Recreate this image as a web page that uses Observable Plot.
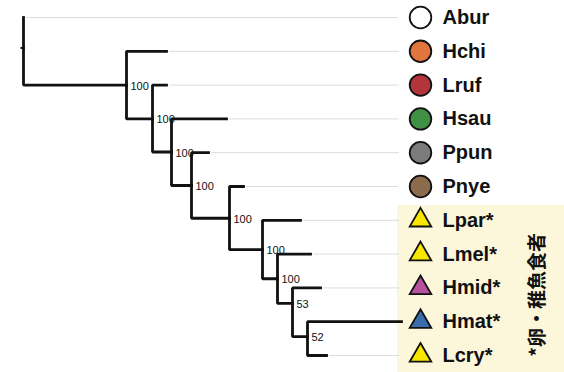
<!DOCTYPE html>
<html>
<head>
<meta charset="utf-8">
<script src="https://cdn.jsdelivr.net/npm/d3@7"></script>
<script src="https://cdn.jsdelivr.net/npm/@observablehq/plot@0.6"></script>
<style>
  html, body { margin: 0; padding: 0; background: #fff; }
  #chart svg { display: block; }
  g[aria-label="tip-labels"] text { letter-spacing: 0.8px; }
</style>
</head>
<body>
<div id="chart"></div>
<script>
// ---- Tips (leaves), top to bottom ----
const tips       = ["Abur","Hchi","Lruf","Hsau","Ppun","Pnye","Lpar","Lmel","Hmid","Hmat","Lcry"];
const tipLabels  = ["Abur","Hchi","Lruf","Hsau","Ppun","Pnye","Lpar*","Lmel*","Hmid*","Hmat*","Lcry*"];
const tipParent  = ["N0","N1","N2","N3","N4","N5","N6","N7","N8","N9","N9"];
const tipDepth   = [0.000,0.143,0.143,0.203,0.185,0.220,0.277,0.287,0.297,0.378,0.303];
const tipColor   = ["#ffffff","#e0763e","#b3353b","#3f8f45","#7b7b7b","#8c6a4c","#f8e800","#f8e800","#b5529b","#3a6db0","#f8e800"];
const tipShape   = ["circle","circle","circle","circle","circle","circle","triangle","triangle","triangle","triangle","triangle"];
const tipEggFry  = [false,false,false,false,false,false,true,true,true,true,true];

// ---- Internal nodes ----
const nodes       = ["N0","N1","N2","N3","N4","N5","N6","N7","N8","N9"];
const nodeParent  = [null,"N0","N1","N2","N3","N4","N5","N6","N7","N8"];
const nodeDepth   = [0.000,0.103,0.129,0.148,0.168,0.206,0.239,0.254,0.269,0.284];
const nodeRow     = [0.90,2.00,3.00,3.98,4.97,5.94,6.87,7.73,8.46,9.44];
const nodeSupport = [null,100,100,100,100,100,100,100,53,52];

const noteText = "*卵・稚魚食者";
const guideEnd = 0.375;

// ---- Build tables ----
const tipTable = tips.map((id, i) => ({
  id, label: tipLabels[i], parent: tipParent[i], depth: tipDepth[i], row: i,
  color: tipColor[i], shape: tipShape[i], eggFry: tipEggFry[i]
}));
const nodeTable = nodes.map((id, i) => ({
  id, parent: nodeParent[i], depth: nodeDepth[i], row: nodeRow[i], support: nodeSupport[i]
}));
const all = [...nodeTable, ...tipTable];
const byId = new Map(all.map(d => [d.id, d]));
const edges = all.filter(d => d.parent).map(d => {
  const p = byId.get(d.parent);
  return {x1: p.depth, y1: p.row, x2: d.depth, y2: d.row};
});
const root = nodeTable.find(d => !d.parent);
const group = tipTable.filter(d => d.eggFry);
const groupBox = [{
  y1: d3.min(group, d => d.row) - 0.44,
  y2: d3.max(group, d => d.row) + 0.6
}];
const guides = tipTable.filter(d => d.depth < guideEnd);

const chart = Plot.plot({
  width: 564,
  height: 372,
  marginTop: 17,
  marginBottom: 17,
  marginLeft: 23,
  marginRight: 164,
  x: {domain: [0, 0.377], axis: null},
  y: {domain: [0, 10], reverse: true, axis: null},
  style: {fontFamily: "'Liberation Sans', Arial, Helvetica, sans-serif", background: "#fff"},
  marks: [
    Plot.rect(groupBox, {x1: guideEnd - 0.001, x2: 0.7, y1: "y1", y2: "y2", fill: "#fcf7da"}),
    Plot.link(guides, {
      x1: d => d.depth + 0.003, x2: () => guideEnd, y1: "row", y2: "row",
      stroke: "#b0b0b0", strokeWidth: 0.9, strokeDasharray: "1,1"
    }),
    Plot.link(edges, {
      x1: "x1", y1: "y1", x2: "x2", y2: "y2", curve: "step-before",
      stroke: "#111", strokeWidth: 2.8, strokeLinecap: "square", strokeLinejoin: "miter"
    }),
    Plot.link([root], {
      x1: d => d.depth - 0.003, x2: "depth", y1: "row", y2: "row",
      stroke: "#111", strokeWidth: 2
    }),
    Plot.text(nodeTable.filter(d => d.support != null), {
      x: "depth", y: "row", text: d => String(d.support),
      textAnchor: "start", dx: 4, dy: 1, fontSize: 11, fill: "#111"
    }),
    Plot.dot(tipTable.filter(d => d.shape === "circle"), {
      x: () => guideEnd, y: "row", dx: 22, symbol: "circle", r: 10.8,
      fill: "color", stroke: "#111", strokeWidth: 1.8
    }),
    Plot.dot(tipTable.filter(d => d.shape === "triangle"), {
      x: () => guideEnd, y: "row", dx: 22, symbol: "triangle", r: 8,
      fill: "color", stroke: "#111", strokeWidth: 1.8
    }),
    Plot.text(tipTable, {
      x: () => guideEnd, y: "row", dx: 44, text: "label", textAnchor: "start",
      fontSize: 20, fontWeight: "bold", fill: "#111", ariaLabel: "tip-labels"
    }),
    Plot.text([noteText], {
      x: () => guideEnd, y: () => d3.mean(group, d => d.row), dx: 139, dy: 7,
      text: d => d, rotate: -90, fontSize: 19, fontWeight: "bold", fill: "#111",
      fontFamily: "'Noto Sans CJK JP', 'Noto Sans CJK SC', sans-serif"
    })
  ]
});
document.getElementById("chart").appendChild(chart);
</script>
</body>
</html>
